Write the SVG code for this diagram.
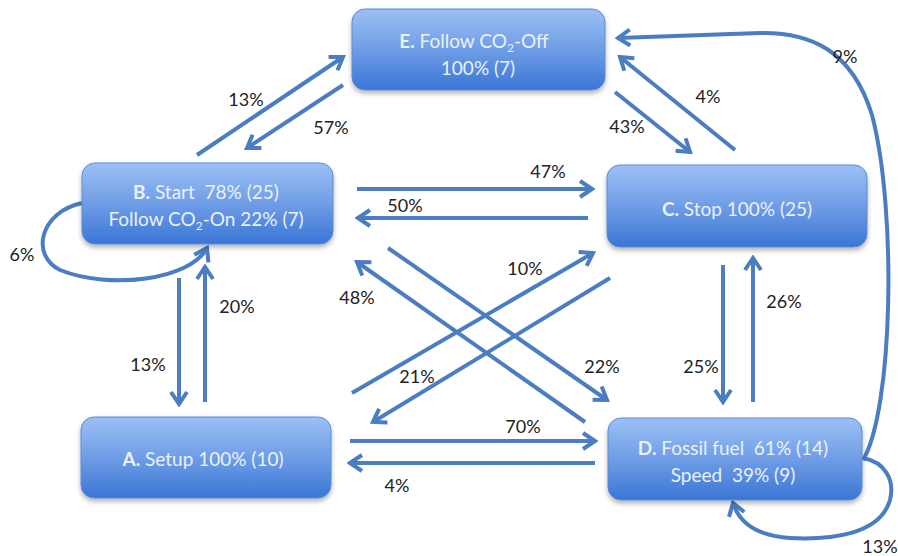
<svg xmlns="http://www.w3.org/2000/svg" width="898" height="556" viewBox="0 0 898 556">
<defs>
<linearGradient id="g" x1="0" y1="0" x2="0" y2="1">
<stop offset="0" stop-color="#9dc0f5"/>
<stop offset="0.5" stop-color="#6f9de6"/>
<stop offset="1" stop-color="#3a76d5"/>
</linearGradient>
<filter id="sh" x="-10%" y="-10%" width="120%" height="130%">
<feDropShadow dx="0" dy="3" stdDeviation="2.5" flood-color="#000" flood-opacity="0.3"/>
</filter>
<marker id="ah" markerUnits="userSpaceOnUse" viewBox="0 0 20 20" markerWidth="20" markerHeight="20" refX="17" refY="10" orient="auto">
<path d="M5,2 L17,10 L5,18" fill="none" stroke="#4a7dc1" stroke-width="4" stroke-linejoin="miter"/>
</marker>
<style>
.box{fill:url(#g);stroke:#5b8bd6;stroke-width:1;filter:url(#sh)}
.nt{font-family:Lato,"Open Sans","Liberation Sans",sans-serif;font-size:19px;fill:#eaf1ff;text-anchor:middle}
.nt .b{font-weight:bold}
.c{fill:none;stroke:#4a7dc1;stroke-width:4;marker-end:url(#ah)}
.lb{font-family:Lato,"Open Sans","Liberation Sans",sans-serif;font-size:18px;fill:#222;text-anchor:middle}
</style>
</defs>
<g id="connectors">
<line class="c" x1="197" y1="155" x2="343" y2="57"/>
<line class="c" x1="343" y1="85" x2="247" y2="148"/>
<line class="c" x1="615" y1="92" x2="690" y2="152"/>
<line class="c" x1="735" y1="150" x2="620" y2="57"/>
<line class="c" x1="357" y1="189" x2="592" y2="189"/>
<line class="c" x1="588" y1="218" x2="358" y2="218"/>
<path class="c" d="M82,203 C40,212 30,255 60,270 C110,290 190,280 207,248"/>
<line class="c" x1="179" y1="278" x2="179" y2="404"/>
<line class="c" x1="205" y1="402" x2="205" y2="267"/>
<line class="c" x1="723" y1="265" x2="723" y2="402"/>
<line class="c" x1="753" y1="402" x2="753" y2="258"/>
<line class="c" x1="350" y1="441" x2="595" y2="441"/>
<line class="c" x1="595" y1="463" x2="350" y2="463"/>
<line class="c" x1="388" y1="248" x2="607" y2="400"/>
<line class="c" x1="585" y1="422" x2="357" y2="262"/>
<line class="c" x1="352" y1="393" x2="593" y2="253"/>
<line class="c" x1="610" y1="278" x2="373" y2="422"/>
<path class="c" d="M863,460 C893,410 897,210 872,115 C852,50 810,32 760,33 L618,38"/>
<path class="c" d="M863,458 C885,462 895,480 890,500 C880,535 830,540 790,538 C760,536 740,525 733,503"/>
</g>
<g class="lbls">
<text class="lb" x="246" y="106">13%</text>
<text class="lb" x="331" y="134">57%</text>
<text class="lb" x="627" y="133">43%</text>
<text class="lb" x="708" y="103">4%</text>
<text class="lb" x="548" y="178">47%</text>
<text class="lb" x="405" y="212">50%</text>
<text class="lb" x="22" y="261">6%</text>
<text class="lb" x="148" y="371">13%</text>
<text class="lb" x="237" y="313">20%</text>
<text class="lb" x="701" y="373">25%</text>
<text class="lb" x="784" y="308">26%</text>
<text class="lb" x="523" y="433">70%</text>
<text class="lb" x="397" y="492">4%</text>
<text class="lb" x="602" y="373">22%</text>
<text class="lb" x="357" y="304">48%</text>
<text class="lb" x="525" y="275">10%</text>
<text class="lb" x="417" y="383">21%</text>
<text class="lb" x="845" y="63">9%</text>
<text class="lb" x="880" y="553">13%</text>
</g>
<g id="nodeE">
<rect class="box" x="352" y="9" width="253" height="81" rx="13"/>
<text class="nt" x="474" y="48"><tspan class="b">E.</tspan> Follow CO<tspan font-size="12" dy="4">2</tspan><tspan dy="-4">-Off</tspan></text>
<text class="nt" x="478" y="75">100% (7)</text>
</g>
<g id="nodeB">
<rect class="box" x="82" y="163" width="251" height="81" rx="13"/>
<text class="nt" x="206" y="199" xml:space="preserve"><tspan class="b">B.</tspan> Start  78% (25)</text>
<text class="nt" x="206" y="226">Follow CO<tspan font-size="12" dy="4">2</tspan><tspan dy="-4">-On 22% (7)</tspan></text>
</g>
<g id="nodeC">
<rect class="box" x="607" y="165" width="260" height="82" rx="13"/>
<text class="nt" x="737" y="216"><tspan class="b">C.</tspan> Stop 100% (25)</text>
</g>
<g id="nodeA">
<rect class="box" x="81" y="417" width="250" height="81" rx="13"/>
<text class="nt" x="203" y="466"><tspan class="b">A.</tspan> Setup 100% (10)</text>
</g>
<g id="nodeD">
<rect class="box" x="608" y="418" width="254" height="82" rx="13"/>
<text class="nt" x="733" y="455" xml:space="preserve"><tspan class="b">D.</tspan> Fossil fuel  61% (14)</text>
<text class="nt" x="733" y="482" xml:space="preserve">Speed  39% (9)</text>
</g>
</svg>
